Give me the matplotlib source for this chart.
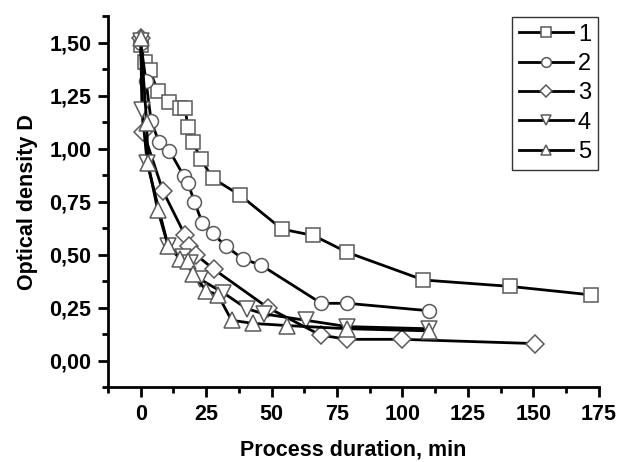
import matplotlib
matplotlib.use('Agg')
import matplotlib.pyplot as plt
from matplotlib.ticker import MultipleLocator, FuncFormatter

# process duration (min) and optical density for the five series
t1 = [0, 1.5, 3.5, 6.5, 11, 15, 17, 18, 20, 23, 27.5, 38, 54, 66, 79, 108, 141, 172]
d1 = [1.49, 1.41, 1.37, 1.27, 1.22, 1.19, 1.19, 1.10, 1.03, 0.95, 0.86, 0.78, 0.62, 0.59, 0.51, 0.38, 0.35, 0.31]

t2 = [0, 2, 4, 7, 11, 16.5, 18, 20.5, 23.5, 27.5, 32.5, 39, 46, 69, 79, 110]
d2 = [1.50, 1.32, 1.13, 1.03, 0.99, 0.87, 0.84, 0.75, 0.65, 0.60, 0.54, 0.48, 0.45, 0.27, 0.27, 0.235]

t3 = [0, 1, 8.5, 17, 18.5, 21, 28, 48.5, 68.7, 79, 100, 150.5]
d3 = [1.52, 1.08, 0.80, 0.59, 0.54, 0.50, 0.43, 0.25, 0.12, 0.10, 0.10, 0.08]

t4 = [0, 0.5, 2.5, 10.5, 16, 19, 22.5, 31.5, 40.5, 47, 63, 79, 110]
d4 = [1.51, 1.18, 0.93, 0.54, 0.49, 0.46, 0.385, 0.32, 0.245, 0.22, 0.19, 0.16, 0.15]

t5 = [0, 2.3, 2.8, 6.5, 10.5, 15, 18, 20, 25, 29.5, 34.7, 43, 56, 79, 110]
d5 = [1.52, 1.12, 0.93, 0.71, 0.54, 0.48, 0.47, 0.41, 0.33, 0.31, 0.19, 0.175, 0.165, 0.15, 0.14]

labels = ['1', '2', '3', '4', '5']
markers = ['s', 'o', 'D', 'v', '^']
sizes = [10, 10, 9, 11, 11]

plt.rcParams['font.family'] = ['Liberation Sans', 'DejaVu Sans']

fig = plt.figure(figsize=(6.37, 4.62), dpi=100)
ax = fig.add_axes([0.1695, 0.1623, 0.7705, 0.8027])

series = [(t1, d1), (t2, d2), (t3, d3), (t4, d4), (t5, d5)]
for (t, d), lab, m, s in zip(series, labels, markers, sizes):
    ax.plot(t, d, color='black', lw=2, marker=m, ms=s, mfc='white',
            mec='#5a5a5a', mew=1.1, label=lab)

ax.set_xlim(-12.5, 175)
ax.set_ylim(-0.125, 1.625)
ax.xaxis.set_major_locator(MultipleLocator(25))
ax.xaxis.set_minor_locator(MultipleLocator(12.5))
ax.yaxis.set_major_locator(MultipleLocator(0.25))
ax.yaxis.set_minor_locator(MultipleLocator(0.125))
ax.yaxis.set_major_formatter(FuncFormatter(lambda v, p: ('%.2f' % v).replace('.', ',')))

for sp in ['top', 'right']:
    ax.spines[sp].set_visible(False)
for sp in ['left', 'bottom']:
    ax.spines[sp].set_linewidth(2)

ax.tick_params(which='major', direction='out', length=7, width=2, labelsize=15.5, pad=5)
ax.tick_params(which='minor', direction='out', length=4, width=2)
for lbl in ax.get_xticklabels() + ax.get_yticklabels():
    lbl.set_fontweight('bold')

ax.set_xlabel('Process duration, min', fontsize=15.5, fontweight='bold', labelpad=11)
ax.set_ylabel('Optical density D', fontsize=15.5, fontweight='bold', labelpad=8)

leg = fig.legend(*ax.get_legend_handles_labels(), loc='lower right',
                 bbox_to_anchor=(0.939, 0.632), fontsize=17, markerscale=0.7,
                 handlelength=2.3, handletextpad=0.2, labelspacing=0.31,
                 fancybox=False, framealpha=1, edgecolor='#333333', borderpad=0.3,
                 borderaxespad=0.0)
leg.get_frame().set_linewidth(1)

fig.savefig('out.png', dpi=100)
